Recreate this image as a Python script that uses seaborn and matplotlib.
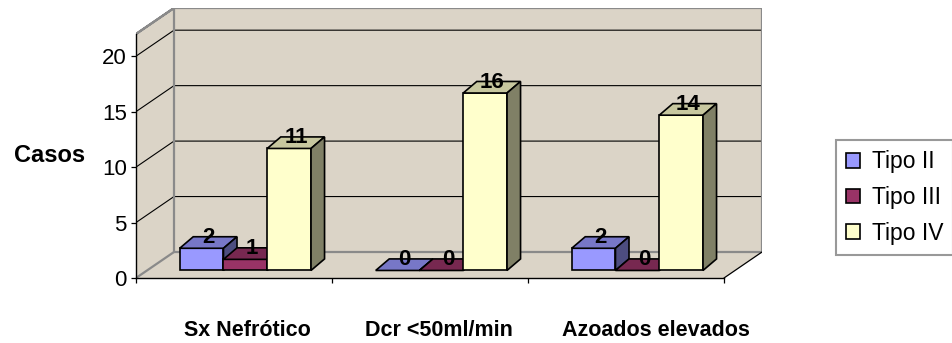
import matplotlib
matplotlib.use("Agg")
import matplotlib.pyplot as plt
from matplotlib.patches import Polygon, Patch
from matplotlib.transforms import Affine2D
from matplotlib.colors import to_rgb
import seaborn as sns
import pandas as pd

# Datos
categorias = ["Sx Nefrótico", "Dcr <50ml/min", "Azoados elevados"]
tipos = ["Tipo II", "Tipo III", "Tipo IV"]
tipo_ii = [2, 0, 2]
tipo_iii = [1, 0, 0]
tipo_iv = [11, 16, 14]
yticks = [0, 5, 10, 15, 20]
ymax = 22

colores = {"Tipo II": "#9999FF", "Tipo III": "#993366", "Tipo IV": "#FFFFCC"}

df = pd.DataFrame({
    "categoria": categorias * 3,
    "tipo": [t for t in tipos for _ in categorias],
    "casos": tipo_ii + tipo_iii + tipo_iv,
})

sns.set_style("white")
plt.rcParams["font.family"] = ["Liberation Sans", "DejaVu Sans"]
plt.rcParams.update({"text.color": "black", "axes.labelcolor": "black",
                     "xtick.color": "black", "ytick.color": "black"})

# Geometría de la perspectiva oblicua (unidades de datos)
DX, DY = 0.1939, 2.344        # profundidad total de la caja
SX, SY = 0.058, 0.68          # plano de las barras dentro de la caja
BDX, BDY = 0.069, 1.04        # profundidad de cada barra
WALL = "#DBD4C7"
EDGE = "#8A8A8A"

fig = plt.figure(figsize=(9.52, 3.43), dpi=100)
ax = fig.add_axes([136 / 952, 65 / 343, 626 / 952, 270 / 343])

x0, x1 = -0.5, 2.5
# paredes y piso
ax.add_patch(Polygon([(x0, 0), (x0, ymax), (x0 + DX, ymax + DY), (x0 + DX, DY)],
                     closed=True, facecolor=WALL, edgecolor="none", zorder=0.5))
ax.add_patch(Polygon([(x0 + DX, DY), (x0 + DX, ymax + DY), (x1 + DX, ymax + DY), (x1 + DX, DY)],
                     closed=True, facecolor=WALL, edgecolor="none", zorder=0.5))
ax.add_patch(Polygon([(x0, 0), (x1, 0), (x1 + DX, DY), (x0 + DX, DY)],
                     closed=True, facecolor=WALL, edgecolor="none", zorder=0.5))

# líneas de división
for v in yticks[1:]:
    ax.plot([x0, x0 + DX, x1 + DX], [v, v + DY, v + DY], color="black", lw=0.8, zorder=1)

# bordes de la caja
ax.plot([x0, x0 + DX, x1 + DX, x1 + DX, x0 + DX, x0 + DX, x0],
        [ymax, ymax + DY, ymax + DY, DY, DY, ymax + DY, ymax],
        color=EDGE, lw=1.6, zorder=1.2, solid_joinstyle="miter")
ax.plot([x0, x0 + DX], [0, DY], color=EDGE, lw=1.6, zorder=1.2)
ax.plot([x1, x1 + DX], [0, DY], color="black", lw=0.9, zorder=1.2)

sns.barplot(data=df, x="categoria", y="casos", hue="tipo", order=categorias,
            hue_order=tipos, palette=colores, saturation=1, width=0.67,
            edgecolor="black", linewidth=1.2, legend=False, ax=ax, zorder=3)


def shade(c, f):
    r, g, b = to_rgb(c)
    return (r * f, g * f, b * f)


barras = sorted([p for cont in ax.containers for p in cont], key=lambda p: p.get_x())
tr = Affine2D().translate(SX, SY) + ax.transData
for k, p in enumerate(barras):
    bx, w, h = p.get_x(), p.get_width(), p.get_height()
    fc = p.get_facecolor()
    z = 3 + k * 0.1
    p.set_transform(tr)
    p.set_zorder(z)
    ax.add_patch(Polygon([(bx, h), (bx + w, h), (bx + w + BDX, h + BDY), (bx + BDX, h + BDY)],
                         closed=True, facecolor=shade(fc, 0.78), edgecolor="black",
                         lw=1.2, transform=tr, zorder=z + 0.01))
    ax.add_patch(Polygon([(bx + w, 0), (bx + w, h), (bx + w + BDX, h + BDY), (bx + w + BDX, BDY)],
                         closed=True, facecolor=shade(fc, 0.5), edgecolor="black",
                         lw=1.2, transform=tr, zorder=z + 0.02))
    ax.text(bx + w / 2 + BDX / 2, h + BDY / 2 + 0.45, f"{h:g}", transform=tr,
            ha="center", va="center", fontsize=16, fontweight="bold", zorder=10)

ax.set_xlim(x0, x1 + DX)
ax.set_ylim(0, ymax + DY)

for s in ["top", "right"]:
    ax.spines[s].set_visible(False)
ax.spines["left"].set_bounds(0, ymax)
ax.spines["bottom"].set_bounds(x0, x1)
for s in ["left", "bottom"]:
    ax.spines[s].set_color("black")
    ax.spines[s].set_linewidth(1.0)
    ax.spines[s].set_zorder(2)

ax.set_yticks(yticks)
ax.set_yticklabels([str(v) for v in yticks], fontsize=16)
ax.tick_params(axis="y", length=3.6, width=0.9, pad=3, color="black", direction="out", left=True)

label_pos = [0.066, 1.046, 2.153]
ax.set_xticks(label_pos)
ax.set_xticklabels(categorias, fontsize=15.5, fontweight="bold")
ax.set_xticks([-0.5, 0.5, 1.5, 2.5], minor=True)
ax.tick_params(axis="x", which="major", length=0, pad=30, bottom=True)
ax.tick_params(axis="x", which="minor", length=3.6, width=0.9, color="black", direction="out", bottom=True)

ax.set_xlabel("")
ax.set_ylabel("Casos", rotation=0, fontsize=17, fontweight="bold", ha="center", va="center")
ax.yaxis.set_label_coords((50 - 136) / 626, (278 - 156) / 270)
ax.set_facecolor("none")

handles = [Patch(facecolor=colores[t], edgecolor="black", linewidth=1.2) for t in tipos]
leg = fig.legend(handles, tipos, loc="upper left", bbox_to_anchor=(836 / 952, 1 - 140 / 343),
                 frameon=True, fancybox=False, edgecolor="#808080", fontsize=16.5,
                 handlelength=0.6, handleheight=0.6, handletextpad=0.5,
                 labelspacing=0.55, borderpad=0.45, borderaxespad=0)
leg.get_frame().set_linewidth(1.5)

fig.savefig("out.png", dpi=100, facecolor="white")
